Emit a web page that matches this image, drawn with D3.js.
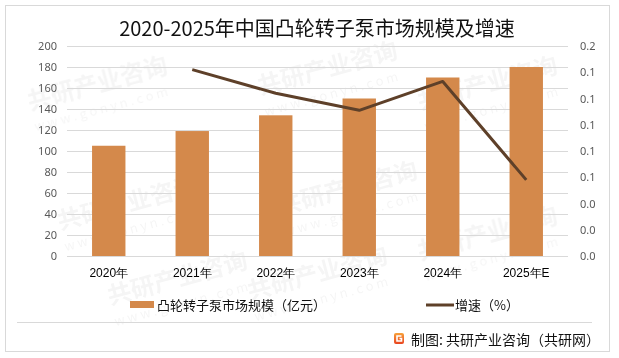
<!DOCTYPE html>
<html><head><meta charset="utf-8">
<script src="https://cdn.jsdelivr.net/npm/d3@7/dist/d3.min.js"></script>
<style>
html,body{margin:0;padding:0;background:#fff;}
svg{display:block;font-family:"Noto Sans CJK SC","Noto Sans",sans-serif;}
</style></head>
<body>
<svg id="c" width="619" height="358"></svg>
<script>
const title = "2020-2025年中国凸轮转子泵市场规模及增速";
const years = ["2020年","2021年","2022年","2023年","2024年","2025年E"];
const marketSize = [105, 119, 134, 150, 170, 180];
const growthYears = ["2021年","2022年","2023年","2024年","2025年E"];
const growthRate = [0.142, 0.124, 0.111, 0.133, 0.058];
const leftTicks = [0,20,40,60,80,100,120,140,160,180,200];
const rightTicks = [0,0.02,0.04,0.06,0.08,0.10,0.12,0.14,0.16];
const legendLabels = ["凸轮转子泵市场规模（亿元）","增速（%）"];
const credit = "制图: 共研产业咨询（共研网）";
const watermarkA = "共研产业咨询";
const watermarkB = "w w w . g o n y n . c o m";

const svg = d3.select("#c");
const m = {left:67, right:568, top:46, bottom:256};

// watermarks (kept inside the frame)
const wm = svg.append("g").attr("fill","#000").attr("opacity",0.04).attr("font-weight","bold");
const wmPos = [[30,110],[260,95],[420,110],[60,230],[280,215],[420,260],[110,305],[250,300]];
wmPos.forEach(([x,y])=>{
  const g = wm.append("g").attr("transform",`translate(${x},${y}) rotate(-15)`);
  g.append("text").attr("font-size",24).text(watermarkA);
  g.append("text").attr("y",22).attr("font-size",13).attr("font-weight","normal").text(watermarkB);
});

// border
svg.append("rect").attr("x",5.5).attr("y",5.5).attr("width",604).attr("height",346)
  .attr("fill","none").attr("stroke","#d9d9d9").attr("stroke-width",1);

// title
svg.append("text").attr("x",317).attr("y",36).attr("text-anchor","middle")
  .attr("font-size",20).attr("fill","#111").text(title);

const x = d3.scaleBand().domain(years).range([m.left,m.right]).paddingInner(0.6).paddingOuter(0.3);
const y = d3.scaleLinear().domain([0,200]).range([m.bottom,m.top]);
const y2 = d3.scaleLinear().domain([0,0.16]).range([m.bottom,m.top]);

// gridlines
svg.append("g").selectAll("line").data(leftTicks).join("line")
  .attr("x1",m.left).attr("x2",m.right)
  .attr("y1",d=>Math.round(y(d))+0.5).attr("y2",d=>Math.round(y(d))+0.5)
  .attr("stroke","#d9d9d9").attr("stroke-width",1);

// left axis
const la = svg.append("g").attr("transform",`translate(${m.left},0)`)
  .call(d3.axisLeft(y).tickValues(leftTicks).tickSize(0).tickPadding(10));
la.select(".domain").remove();
la.selectAll("text").attr("font-size",11).attr("fill","#595959").attr("font-family","'Noto Sans',sans-serif");

// right axis
const ra = svg.append("g").attr("transform",`translate(${m.right},0)`)
  .call(d3.axisRight(y2).tickValues(rightTicks).tickSize(0).tickPadding(12).tickFormat(d3.format(".1f")));
ra.select(".domain").remove();
ra.selectAll("text").attr("font-size",11).attr("fill","#595959").attr("font-family","'Noto Sans',sans-serif");

// bars
svg.append("g").selectAll("rect").data(marketSize).join("rect")
  .attr("x",(d,i)=>x(years[i])).attr("width",x.bandwidth())
  .attr("y",d=>y(d)).attr("height",d=>m.bottom-y(d))
  .attr("fill","#d4894b");

// line
const line = d3.line().x((d,i)=>x(growthYears[i])+x.bandwidth()/2).y(d=>y2(d));
svg.append("path").datum(growthRate).attr("d",line)
  .attr("fill","none").attr("stroke","#5e4029").attr("stroke-width",3).attr("stroke-linejoin","round");

// x axis labels
const xa = svg.append("g").attr("transform",`translate(0,${m.bottom})`)
  .call(d3.axisBottom(x).tickSize(0).tickPadding(12));
xa.select(".domain").remove();
xa.selectAll("text").attr("font-size",12).attr("fill","#000");

// legend
const lg = svg.append("g");
lg.append("rect").attr("x",130).attr("y",301).attr("width",24).attr("height",7).attr("fill","#d4894b");
lg.append("text").attr("x",157).attr("y",310).attr("font-size",13).attr("fill","#111").text(legendLabels[0]);
lg.append("line").attr("x1",426).attr("x2",454).attr("y1",305).attr("y2",305).attr("stroke","#5e4029").attr("stroke-width",3);
lg.append("text").attr("x",455).attr("y",310).attr("font-size",13).attr("fill","#111").text(legendLabels[1]);

// separator
svg.append("line").attr("x1",17).attr("x2",592).attr("y1",322.5).attr("y2",322.5).attr("stroke","#d9d9d9");

// credit icon
const grad = svg.append("defs").append("linearGradient").attr("id","ig").attr("x1","0").attr("y1","0").attr("x2","0").attr("y2","1");
grad.append("stop").attr("offset","0").attr("stop-color","#f7a23a");
grad.append("stop").attr("offset","1").attr("stop-color","#e8421f");
svg.append("rect").attr("x",394).attr("y",333).attr("width",10).attr("height",11).attr("rx",2).attr("fill","url(#ig)");
svg.append("path").attr("d","M401.5,336 H397 V341 H401.5 V338.5 H399.5")
  .attr("fill","none").attr("stroke","#fff").attr("stroke-width",1.6);
svg.append("text").attr("x",411).attr("y",345).attr("font-size",14).attr("fill","#111").text(credit);
</script>
</body></html>
